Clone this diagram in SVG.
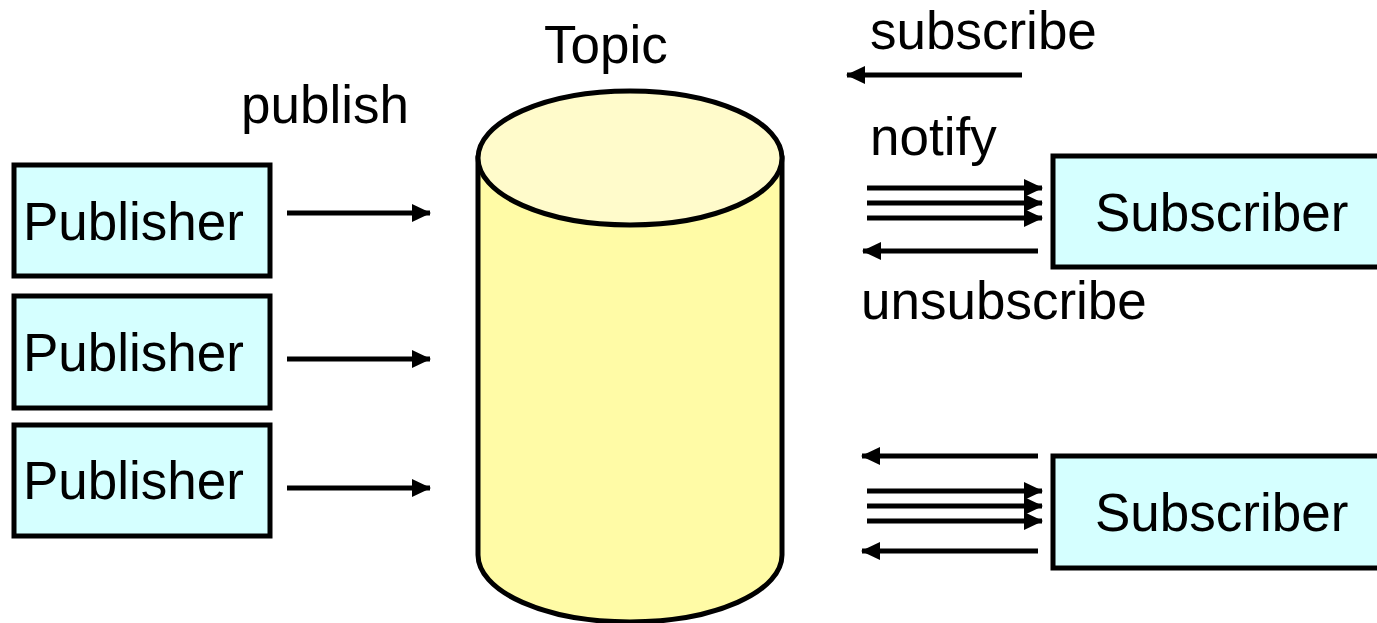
<svg xmlns="http://www.w3.org/2000/svg" width="1377" height="623" viewBox="0 0 1377 623">
  <style>
    .box { fill: #D5FFFF; stroke: #000; stroke-width: 5; }
    .lbl { font-family: "Liberation Sans", Arial, sans-serif; font-size: 53px; fill: #000; }
    .arr { stroke: #000; stroke-width: 5; fill: none; marker-end: url(#head); }
  </style>
  <defs>
    <marker id="head" markerUnits="userSpaceOnUse" markerWidth="20" markerHeight="20" refX="18" refY="10" orient="auto">
      <path d="M0,1 L19,10 L0,19 Z" fill="#000"/>
    </marker>
  </defs>

  <rect width="1377" height="623" fill="#fff"/>

  <!-- topic store (cylinder) -->
  <g id="topic">
    <path d="M478,158 L478,555 A152,67 0 0 0 782,555 L782,158 Z" fill="#FFFBA6" stroke="#000" stroke-width="5"/>
    <ellipse cx="630" cy="158" rx="152" ry="67" fill="#FFFBCB" stroke="#000" stroke-width="5"/>
    <text class="lbl" x="544" y="63">Topic</text>
  </g>

  <!-- publishers -->
  <g id="publisher1">
    <rect class="box" x="14" y="165" width="256" height="111"/>
    <text class="lbl" x="23" y="240">Publisher</text>
  </g>
  <g id="publisher2">
    <rect class="box" x="14" y="296" width="256" height="112"/>
    <text class="lbl" x="23" y="371">Publisher</text>
  </g>
  <g id="publisher3">
    <rect class="box" x="14" y="425" width="256" height="111"/>
    <text class="lbl" x="23" y="499">Publisher</text>
  </g>

  <!-- subscribers -->
  <g id="subscriber1">
    <rect class="box" x="1053" y="156" width="340" height="111"/>
    <text class="lbl" x="1095" y="231">Subscriber</text>
  </g>
  <g id="subscriber2">
    <rect class="box" x="1053" y="456" width="340" height="112"/>
    <text class="lbl" x="1095" y="531">Subscriber</text>
  </g>

  <!-- connectors and their labels -->
  <g id="connectors">
    <text class="lbl" x="241" y="123">publish</text>
    <line class="arr" x1="287" y1="213" x2="430" y2="213"/>
    <line class="arr" x1="287" y1="359" x2="430" y2="359"/>
    <line class="arr" x1="287" y1="488" x2="430" y2="488"/>

    <text class="lbl" x="870" y="49">subscribe</text>
    <line class="arr" x1="1022" y1="75" x2="847" y2="75"/>

    <text class="lbl" x="870" y="155">notify</text>
    <line class="arr" x1="867" y1="188" x2="1042" y2="188"/>
    <line class="arr" x1="867" y1="203" x2="1042" y2="203"/>
    <line class="arr" x1="867" y1="218" x2="1042" y2="218"/>
    <line class="arr" x1="1038" y1="251" x2="863" y2="251"/>
    <text class="lbl" x="861" y="319">unsubscribe</text>

    <line class="arr" x1="1038" y1="456" x2="862" y2="456"/>
    <line class="arr" x1="867" y1="491" x2="1042" y2="491"/>
    <line class="arr" x1="867" y1="506" x2="1042" y2="506"/>
    <line class="arr" x1="867" y1="521" x2="1042" y2="521"/>
    <line class="arr" x1="1038" y1="551" x2="862" y2="551"/>
  </g>
</svg>
